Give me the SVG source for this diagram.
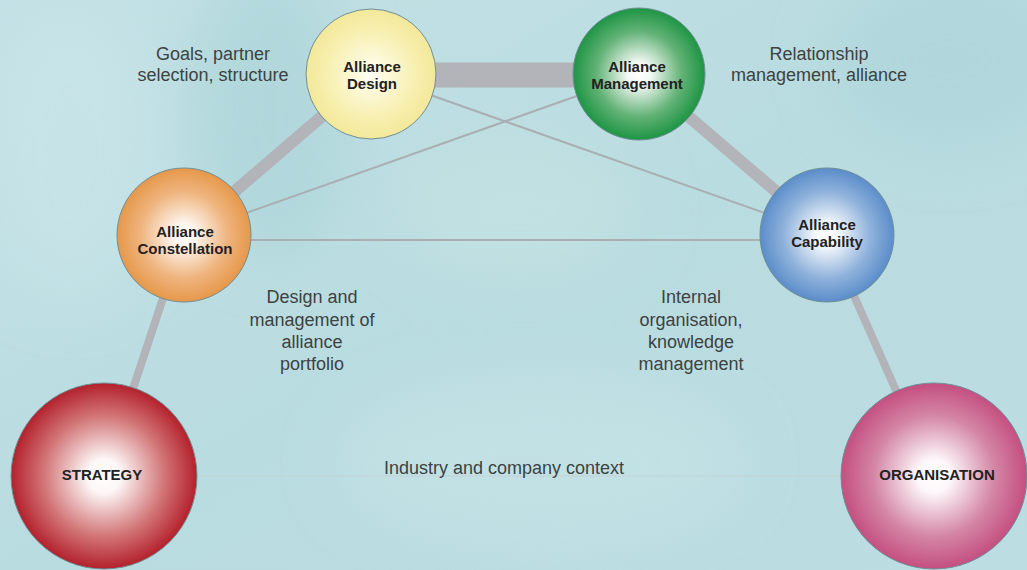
<svg xmlns="http://www.w3.org/2000/svg" width="1027" height="570" viewBox="0 0 1027 570">
<defs>
<style>
.lbl{font-family:"Liberation Sans",Arial,sans-serif;font-size:18px;fill:#3d4242;text-anchor:middle}
.nl{font-family:"Liberation Sans",Arial,sans-serif;font-size:15px;font-weight:bold;fill:#222;text-anchor:middle}
.node{stroke:#6f8f96;stroke-width:1}
.thick{stroke:#b3b4b9;fill:none}
.thin{stroke:#a9aeb3;stroke-width:2;fill:none}
</style>
<filter id="blur" x="-50%" y="-50%" width="200%" height="200%"><feGaussianBlur stdDeviation="30"/></filter>
<linearGradient id="bg" x1="0" y1="0" x2="1" y2="1">
<stop offset="0" stop-color="#c3e1e5"/>
<stop offset="0.5" stop-color="#b9dce0"/>
<stop offset="1" stop-color="#bcdde2"/>
</linearGradient>
<radialGradient id="gS" cx="0.5" cy="0.5" r="0.5"><stop offset="0" stop-color="#fff"/><stop offset="0.18" stop-color="#fdf7f7"/><stop offset="0.65" stop-color="#d27577"/><stop offset="1" stop-color="#b3212c"/></radialGradient>
<radialGradient id="gO" cx="0.5" cy="0.5" r="0.5"><stop offset="0" stop-color="#fff"/><stop offset="0.18" stop-color="#fdf7fa"/><stop offset="0.65" stop-color="#d486a6"/><stop offset="1" stop-color="#c44f80"/></radialGradient>
<radialGradient id="gD" cx="0.5" cy="0.5" r="0.5"><stop offset="0" stop-color="#fffff6"/><stop offset="0.2" stop-color="#fdfae0"/><stop offset="0.7" stop-color="#f7efae"/><stop offset="1" stop-color="#f3e89a"/></radialGradient>
<radialGradient id="gM" cx="0.5" cy="0.5" r="0.5"><stop offset="0" stop-color="#fff"/><stop offset="0.18" stop-color="#f2f8f3"/><stop offset="0.65" stop-color="#62b276"/><stop offset="1" stop-color="#1e9544"/></radialGradient>
<radialGradient id="gC" cx="0.5" cy="0.5" r="0.5"><stop offset="0" stop-color="#fff"/><stop offset="0.18" stop-color="#fdf4ec"/><stop offset="0.65" stop-color="#efb47e"/><stop offset="1" stop-color="#e6984a"/></radialGradient>
<radialGradient id="gB" cx="0.5" cy="0.5" r="0.5"><stop offset="0" stop-color="#fff"/><stop offset="0.18" stop-color="#f3f7fc"/><stop offset="0.65" stop-color="#8fb2db"/><stop offset="1" stop-color="#5b8dca"/></radialGradient>
</defs>
<rect width="1027" height="570" fill="url(#bg)"/>
<g filter="url(#blur)" opacity="0.6">
<ellipse cx="270" cy="110" rx="80" ry="150" fill="#a9d3d8"/>
<ellipse cx="950" cy="60" rx="120" ry="90" fill="#acd4da"/>
<ellipse cx="540" cy="460" rx="200" ry="80" fill="#c8e4e7"/>
<ellipse cx="70" cy="150" rx="90" ry="150" fill="#cbe6ea"/>
<ellipse cx="520" cy="210" rx="120" ry="70" fill="#c6e3e2"/>
</g>
<g id="connectors">
<line class="thick" x1="371" y1="75" x2="639" y2="75" stroke-width="25"/>
<line class="thick" x1="371" y1="74" x2="184" y2="235" stroke-width="12"/>
<line class="thick" x1="639" y1="74" x2="827" y2="235" stroke-width="12"/>
<line class="thick" x1="184" y1="235" x2="104" y2="476" stroke-width="8"/>
<line class="thick" x1="827" y1="235" x2="934" y2="476" stroke-width="8"/>
<line class="thin" x1="371" y1="74" x2="827" y2="235"/>
<line class="thin" x1="639" y1="74" x2="184" y2="235"/>
<line class="thin" x1="184" y1="240" x2="827" y2="240"/>
<line x1="104" y1="476" x2="934" y2="476" stroke="#c5d1d5" stroke-width="1"/>
</g>
<g id="strategy"><circle class="node" cx="104" cy="476" r="93" fill="url(#gS)"/><text class="nl" x="102" y="480">STRATEGY</text></g>
<g id="organisation"><circle class="node" cx="934" cy="476" r="93" fill="url(#gO)"/><text class="nl" x="937" y="480">ORGANISATION</text></g>
<g id="alliance-design"><circle class="node" cx="371" cy="74" r="65" fill="url(#gD)"/><text class="nl" x="372" y="72">Alliance</text><text class="nl" x="372" y="89">Design</text></g>
<g id="alliance-management"><circle class="node" cx="639" cy="74" r="66" fill="url(#gM)"/><text class="nl" x="637" y="72">Alliance</text><text class="nl" x="637" y="89">Management</text></g>
<g id="alliance-constellation"><circle class="node" cx="184" cy="235" r="67" fill="url(#gC)"/><text class="nl" x="185" y="237">Alliance</text><text class="nl" x="185" y="254">Constellation</text></g>
<g id="alliance-capability"><circle class="node" cx="827" cy="235" r="67" fill="url(#gB)"/><text class="nl" x="827" y="230">Alliance</text><text class="nl" x="827" y="247">Capability</text></g>
<g id="labels">
<text class="lbl" x="213" y="60">Goals, partner</text>
<text class="lbl" x="213" y="81">selection, structure</text>
<text class="lbl" x="819" y="60">Relationship</text>
<text class="lbl" x="819" y="81">management, alliance</text>
<text class="lbl" x="312" y="303">Design and</text>
<text class="lbl" x="312" y="326">management of</text>
<text class="lbl" x="312" y="348">alliance</text>
<text class="lbl" x="312" y="370">portfolio</text>
<text class="lbl" x="691" y="303">Internal</text>
<text class="lbl" x="691" y="326">organisation,</text>
<text class="lbl" x="691" y="348">knowledge</text>
<text class="lbl" x="691" y="370">management</text>
<text class="lbl" x="504" y="474">Industry and company context</text>
</g>
</svg>
